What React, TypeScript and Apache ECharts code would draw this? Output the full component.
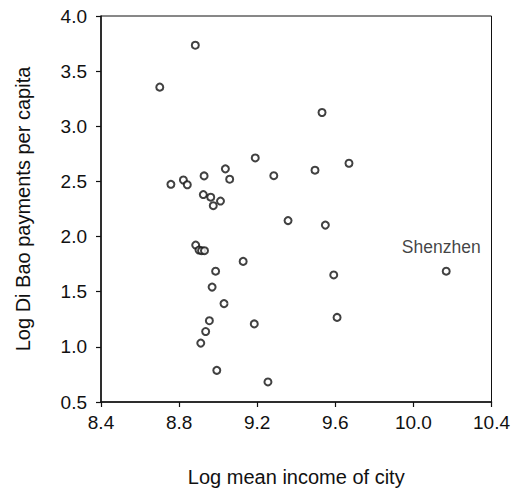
import React, { useEffect, useRef } from "react";
import * as echarts from "echarts";

const xTicks = [8.4, 8.8, 9.2, 9.6, 10.0, 10.4];
const yTicks = [0.5, 1.0, 1.5, 2.0, 2.5, 3.0, 3.5, 4.0];
const logIncome = [
  8.883, 8.701, 8.758, 8.822, 8.842, 8.928, 9.037, 9.059, 8.924, 8.962, 8.975, 9.012,
  9.19, 9.532, 9.285, 9.496, 9.67, 8.885, 8.902, 8.915, 8.93, 8.987, 9.128, 8.969,
  9.03, 8.955, 8.936, 8.911, 9.185, 8.993, 9.358, 9.549, 9.592, 9.609, 9.255, 10.168,
];
const logDiBao = [
  3.735, 3.355, 2.474, 2.513, 2.47, 2.55, 2.614, 2.52, 2.381, 2.357, 2.28, 2.322,
  2.713, 3.125, 2.552, 2.602, 2.665, 1.923, 1.878, 1.872, 1.872, 1.686, 1.775, 1.542,
  1.392, 1.237, 1.139, 1.034, 1.208, 0.787, 2.145, 2.104, 1.652, 1.267, 0.682, 1.686,
];
const cityNames = logIncome.map((_, i) => (i === logIncome.length - 1 ? "Shenzhen" : ""));

const FONT = "'Liberation Sans', Arial, Helvetica, sans-serif";

export default function App() {
  const ref = useRef<HTMLDivElement>(null);
  useEffect(() => {
    if (!ref.current) return;
    const chart = echarts.init(ref.current, undefined, { renderer: "svg" });
    const data = logIncome.map((x, i) => {
      const item: any = { value: [x, logDiBao[i]], name: cityNames[i] };
      if (cityNames[i]) {
        item.label = {
          show: true,
          formatter: cityNames[i],
          position: "top",
          offset: [-5, -6],
          color: "#111",
          fontSize: 17.5,
          fontFamily: FONT,
        };
      }
      return item;
    });
    chart.setOption({
      animation: false,
      backgroundColor: "#fff",
      grid: {
        left: 101,
        top: 16,
        width: 392,
        height: 390,
        show: true,
        borderColor: "#111",
        borderWidth: 1,
        backgroundColor: "transparent",
      },
      xAxis: {
        type: "value",
        min: 8.4,
        max: 10.4,
        interval: 0.4,
        name: "Log mean income of city",
        nameLocation: "middle",
        nameGap: 65,
        nameTextStyle: { fontSize: 20, color: "#111", fontFamily: FONT },
        axisLine: { show: true, onZero: false, lineStyle: { color: "#111", width: 1.5 } },
        axisTick: { show: true, inside: false, length: 5, lineStyle: { color: "#111", width: 1.2 } },
        axisLabel: {
          fontSize: 19,
          color: "#111",
          fontFamily: FONT,
          margin: 11,
          formatter: (v: number) => v.toFixed(1),
        },
        splitLine: { show: false },
      },
      yAxis: {
        type: "value",
        min: 0.5,
        max: 4.0,
        interval: 0.5,
        name: "Log Di Bao payments per capita",
        nameLocation: "middle",
        nameGap: 68,
        nameRotate: 90,
        nameTextStyle: { fontSize: 20, color: "#111", fontFamily: FONT },
        axisLine: { show: true, onZero: false, lineStyle: { color: "#111", width: 1.5 } },
        axisTick: { show: true, inside: false, length: 5, lineStyle: { color: "#111", width: 1.2 } },
        axisLabel: {
          fontSize: 19,
          color: "#111",
          fontFamily: FONT,
          margin: 14,
          formatter: (v: number) => v.toFixed(1),
        },
        splitLine: { show: false },
      },
      series: [
        {
          type: "scatter",
          data,
          symbol: "circle",
          symbolSize: 7,
          itemStyle: { color: "#fff", borderColor: "#111", borderWidth: 2 },
          label: { show: false },
        },
      ],
    });
    return () => chart.dispose();
  }, []);
  return (
    <div
      ref={ref}
      style={{ position: "fixed", left: 0, top: 0, width: 513, height: 492, background: "#fff" }}
    />
  );
}
